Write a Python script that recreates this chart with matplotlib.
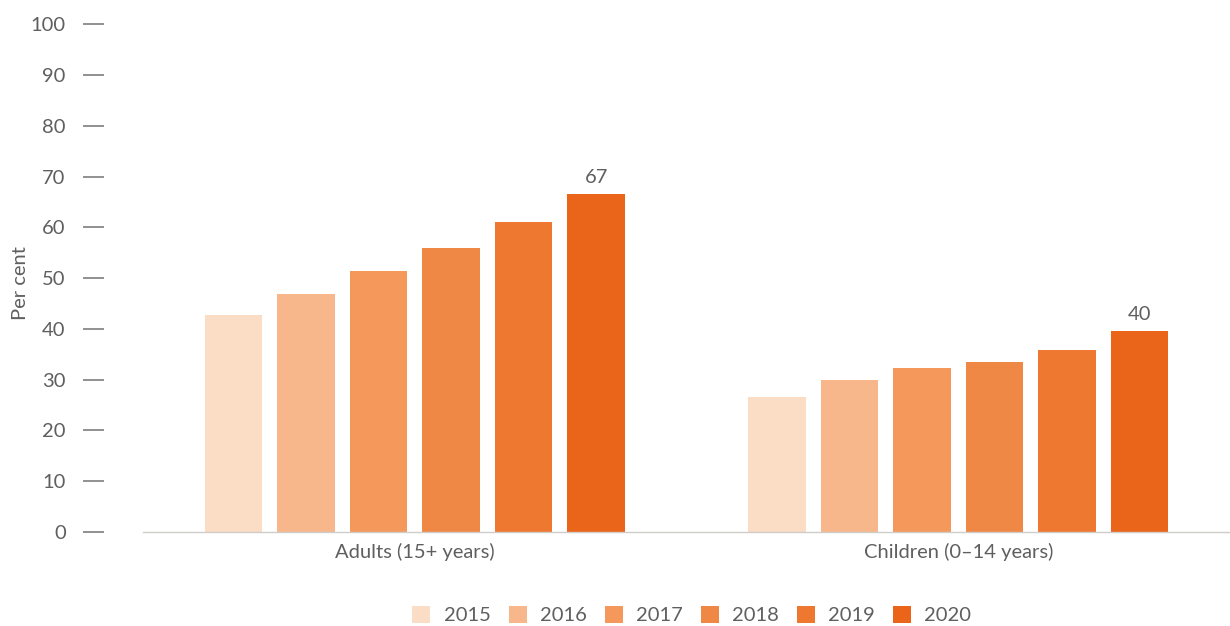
import matplotlib.pyplot as plt
import numpy as np

# Data
groups = ['Adults (15+ years)', 'Children (0\u201314 years)']
years = ['2015', '2016', '2017', '2018', '2019', '2020']
adults = [42.7, 46.8, 51.4, 55.9, 61.1, 66.6]
children = [26.6, 30.0, 32.3, 33.5, 35.8, 39.6]
colors = ['#FBDCC5', '#F7B78A', '#F4985C', '#F08845', '#EE782F', '#EA6519']

plt.rcParams['font.family'] = ['Lato', 'DejaVu Sans']
text_col = '#5f5f5f'
fs = 14.5

fig = plt.figure(figsize=(12.3, 6.26), dpi=100)
ax = fig.add_axes([0.1163, 0.1506, 0.8837, 0.8103])

x = np.arange(len(groups))
step = 0.1335
width = 0.106
values = np.array([adults, children])

for i, yr in enumerate(years):
    pos = x + (i - 2.5) * step
    ax.bar(pos, values[:, i], width, color=colors[i], label=yr, zorder=2)

# value labels on the last year only
last = x + 2.5 * step
for xp, v in zip(last, values[:, -1]):
    ax.annotate(f'{v:.0f}', (xp, v), xytext=(0, 6), textcoords='offset points',
                ha='center', va='bottom', fontsize=fs, color=text_col)

ax.set_xlim(-0.5, 1.5)
ax.set_ylim(0, 100)
ax.set_yticks(range(0, 101, 10))
ax.set_xticks(x)
ax.set_xticklabels(groups)

for s in ['top', 'right']:
    ax.spines[s].set_visible(False)
ax.spines['left'].set_position(('outward', 28.3))
ax.spines['left'].set_visible(False)
ax.spines['bottom'].set_color('#D0CCCA')
ax.spines['bottom'].set_linewidth(1.0)

ax.tick_params(axis='y', length=15.4, width=1.3, color='#888888', pad=12,
               labelsize=fs, labelcolor=text_col)
ax.tick_params(axis='x', length=0, pad=8, labelsize=fs, labelcolor=text_col)

ax.set_ylabel('Per cent', fontsize=fs, color=text_col)
ax.yaxis.set_label_coords(-0.105, 0.49)

fig.legend(loc='center', bbox_to_anchor=(0.5625, 0.0176), ncol=6, frameon=False,
           fontsize=fs, labelcolor=text_col, handlelength=0.9, handleheight=0.9,
           handletextpad=0.65, columnspacing=0.9)

fig.savefig('out.png', dpi=100)
